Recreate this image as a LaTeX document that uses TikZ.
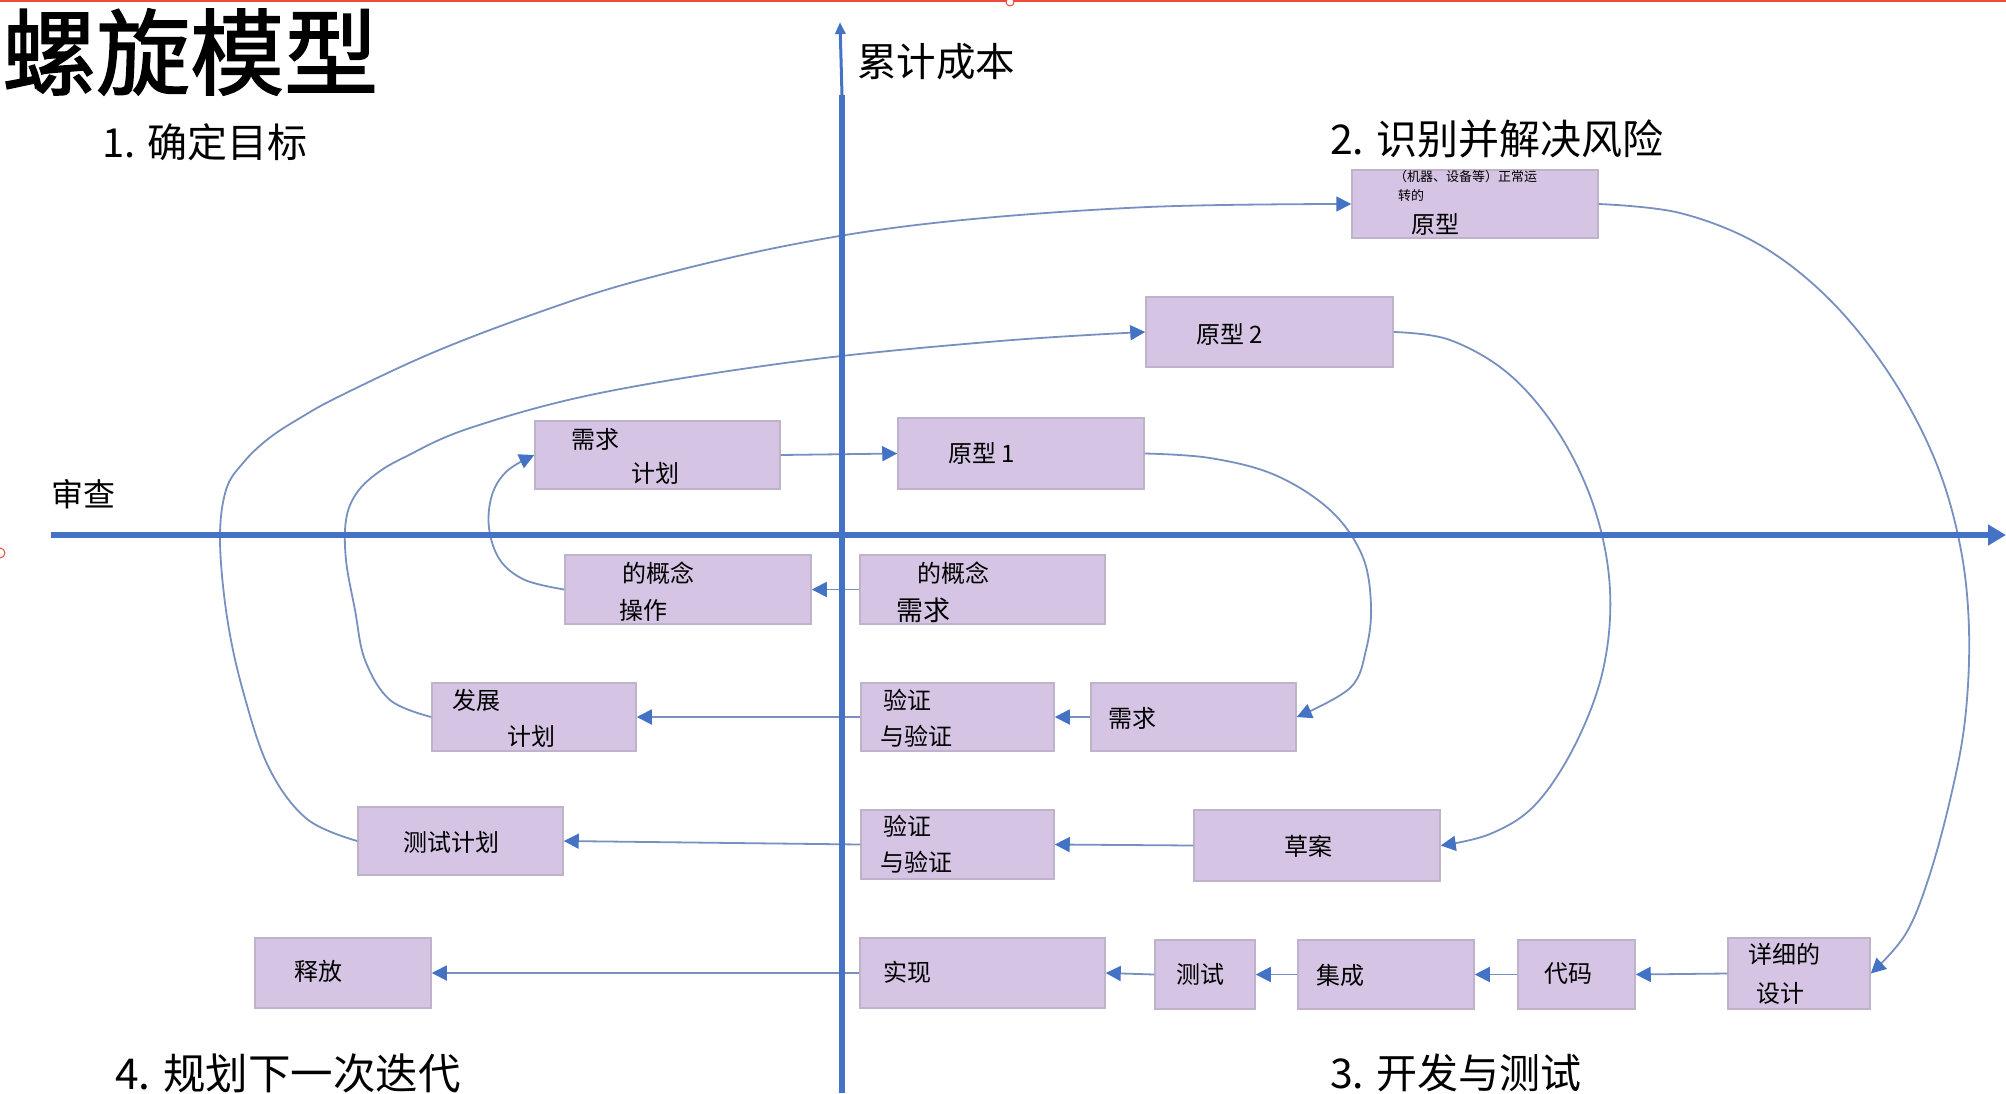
\documentclass[tikz,border=0pt]{standalone}
\usepackage{fontspec}
\setmainfont{Noto Sans CJK SC}
\newfontfamily\titlefont{Noto Sans CJK SC}[FakeBold=1.6]
\usetikzlibrary{arrows.meta}
\definecolor{boxfill}{HTML}{D5C4E4}
\definecolor{boxline}{HTML}{BFB3CC}
\definecolor{axisblue}{HTML}{4472C4}
\definecolor{connc}{HTML}{7890BF}
\definecolor{selred}{HTML}{F04A3E}
\tikzset{
  box/.style={rectangle, draw=boxline, fill=boxfill, line width=1.5pt, inner sep=0pt},
  lbl/.style={anchor=west, inner sep=0pt, font=\fontsize{24}{24}\selectfont},
  small/.style={anchor=west, inner sep=0pt, font=\fontsize{13}{13}\selectfont},
  big/.style={anchor=west, inner sep=0pt, font=\fontsize{40}{40}\selectfont},
  conn/.style={draw=connc, line width=1.8pt, -{Triangle[length=15pt,width=15pt,color=axisblue]}},
  axis/.style={draw=axisblue, line width=5.5pt},
}
\begin{document}
\begin{tikzpicture}[x=1pt,y=1pt]
\useasboundingbox (0,0) rectangle (2006,-1093);
% selection artefacts
\draw[selred, line width=2.5pt] (0,-1) -- (2006,-1);
\begin{scope}
\clip (0,0) rectangle (2006,-1093);
\draw[selred, line width=1pt, fill=white] (0,-553) circle (5);
\draw[selred, line width=1pt, fill=white] (1010,-2) circle (4);
\end{scope}

% boxes
\node[box, minimum width=246, minimum height=68] (top)     at (1475,-204) {};
\node[box, minimum width=247, minimum height=70] (p2)      at (1269.5,-332) {};
\node[box, minimum width=245, minimum height=68] (reqplan) at (657.5,-455) {};
\node[box, minimum width=246, minimum height=71] (p1)      at (1021,-453.5) {};
\node[box, minimum width=246, minimum height=69] (ops)     at (688,-589.5) {};
\node[box, minimum width=245, minimum height=69] (creq)    at (982.5,-589.5) {};
\node[box, minimum width=204, minimum height=68] (dev)     at (534,-717) {};
\node[box, minimum width=193, minimum height=68] (vv1)     at (957.5,-717) {};
\node[box, minimum width=205, minimum height=68] (reqR)    at (1193.5,-717) {};
\node[box, minimum width=205, minimum height=68] (tplan)   at (460.5,-841) {};
\node[box, minimum width=193, minimum height=69] (vv2)     at (957.5,-844.5) {};
\node[box, minimum width=246, minimum height=71] (draft)   at (1317,-845.5) {};
\node[box, minimum width=176, minimum height=70] (rel)     at (343,-973) {};
\node[box, minimum width=245, minimum height=70] (impl)    at (982.5,-973) {};
\node[box, minimum width=100, minimum height=69] (test)    at (1205,-974.5) {};
\node[box, minimum width=176, minimum height=69] (integ)   at (1386,-974.5) {};
\node[box, minimum width=117, minimum height=69] (code)    at (1576.5,-974.5) {};
\node[box, minimum width=142, minimum height=71] (det)     at (1799,-973.5) {};

% straight connectors
\draw[conn] (reqplan.east) -- (p1.west);
\draw[conn] (creq.west) -- (ops.east);
\draw[conn] (reqR.west) -- (vv1.east);
\draw[conn] (vv1.west) -- (dev.east);
\draw[conn] (draft.west) -- (vv2.east);
\draw[conn] (vv2.west) -- (tplan.east);
\draw[conn] (det.west) -- (code.east);
\draw[conn] (code.west) -- (integ.east);
\draw[conn] (integ.west) -- (test.east);
\draw[conn] (test.west) -- (impl.east);
\draw[conn] (impl.west) -- (rel.east);

% curved connectors
\draw[conn] plot[smooth, tension=0.6] coordinates {(ops.west) (525,-580) (500,-560) (489,-528) (492,-495) (507,-471) (reqplan.west)};
\draw[conn] plot[smooth, tension=0.6] coordinates {(p1.east) (1210,-458) (1275,-475) (1330,-510) (1362,-555) (1371,-605) (1366,-650) (1350,-688) (reqR.east)};
\draw[conn] plot[smooth, tension=0.6] coordinates {(dev.west) (390,-700) (365,-660) (355,-610) (346,-560) (346,-520) (356,-494) (376,-474) (405,-457) (470,-428) (600,-393) (800,-361) (1000,-341) (p2.west)};
\draw[conn] plot[smooth, tension=0.6] coordinates {(p2.east) (1450,-340) (1510,-375) (1560,-435) (1595,-510) (1610,-590) (1603,-670) (1575,-745) (1535,-805) (1490,-834) (draft.east)};
\draw[conn] plot[smooth, tension=0.6] coordinates {(tplan.west) (307,-819) (269,-768) (243,-691) (227,-617) (220,-540) (226,-490) (243,-463) (268,-439) (300,-418) (340,-396) (432,-353) (534,-314) (637,-281) (790,-245) (943,-222) (1148,-207) (top.west)};
\draw[conn] plot[smooth, tension=0.6] coordinates {(top.east) (1680,-213) (1760,-245) (1830,-300) (1890,-375) (1935,-460) (1960,-545) (1969,-630) (1965,-720) (1950,-800) (1928,-880) (1905,-935) (det.east)};

% axes
\coordinate (hx0) at (51,-535);
\coordinate (hx1) at (2006,-535);
\coordinate (vy0) at (842,-1093);
\coordinate (vy1) at (842,-95);
\coordinate (vy2) at (840,-22);
\draw[axis, -{Triangle[length=18pt,width=20pt]}] (hx0) -- (hx1);
\draw[axis] (vy0) -- (vy1);
\draw[draw=axisblue, line width=3pt, -{Triangle[length=12pt,width=10pt]}] (vy1) -- (vy2);

% box texts
\node[small] (s1) at (1394,-177) {（机器、设备等）正常运};
\node[small] (s2) at (1398,-196) {转的};
\node[lbl] (ttop) at (1411,-224) {原型};
\node[lbl] (tp2) at (1196,-334) {原型 2};
\node[lbl] (trp1) at (571,-439) {需求};
\node[lbl] (trp2) at (631,-473) {计划};
\node[lbl] (tp1) at (948,-453) {原型 1};
\node[lbl] (tops1) at (622,-573) {的概念};
\node[lbl] (tops2) at (619,-610) {操作};
\node[lbl] (tcr1) at (917,-573) {的概念};
\node[lbl, font=\fontsize{27}{27}\selectfont] (tcr2) at (896,-610) {需求};
\node[lbl] (tdev1) at (452,-700) {发展};
\node[lbl] (tdev2) at (507,-736) {计划};
\node[lbl] (tvv11) at (883,-700) {验证};
\node[lbl] (tvv12) at (880,-736) {与验证};
\node[lbl] (treqR) at (1108,-718) {需求};
\node[lbl] (ttplan) at (403,-842) {测试计划};
\node[lbl] (tvv21) at (883,-826) {验证};
\node[lbl] (tvv22) at (880,-862) {与验证};
\node[lbl] (tdraft) at (1284,-846) {草案};
\node[lbl] (trel) at (294,-971) {释放};
\node[lbl] (timpl) at (883,-972) {实现};
\node[lbl] (ttest) at (1176,-974) {测试};
\node[lbl] (tinteg) at (1316,-975) {集成};
\node[lbl] (tcode) at (1544,-974) {代码};
\node[lbl] (tdet1) at (1748,-954) {详细的};
\node[lbl] (tdet2) at (1756,-993) {设计};

% outer labels
\node[anchor=west, inner sep=0pt, font=\fontsize{94}{94}\titlefont] (title) at (2,-52) {螺旋模型};
\node[big] (q1) at (102,-142) {1. 确定目标};
\node[big, font=\fontsize{39.5}{40}\selectfont] (ycap) at (857,-62) {累计成本};
\node[big, font=\fontsize{41}{41}\selectfont] (q2) at (1330,-139) {2. 识别并解决风险};
\node[big, font=\fontsize{32}{32}\selectfont] (rev) at (51,-494) {审查};
\node[big, font=\fontsize{42.5}{43}\selectfont] (q4) at (115,-1073) {4. 规划下一次迭代};
\node[big, font=\fontsize{41}{41}\selectfont] (q3) at (1330,-1073) {3. 开发与测试};
\end{tikzpicture}
\end{document}
